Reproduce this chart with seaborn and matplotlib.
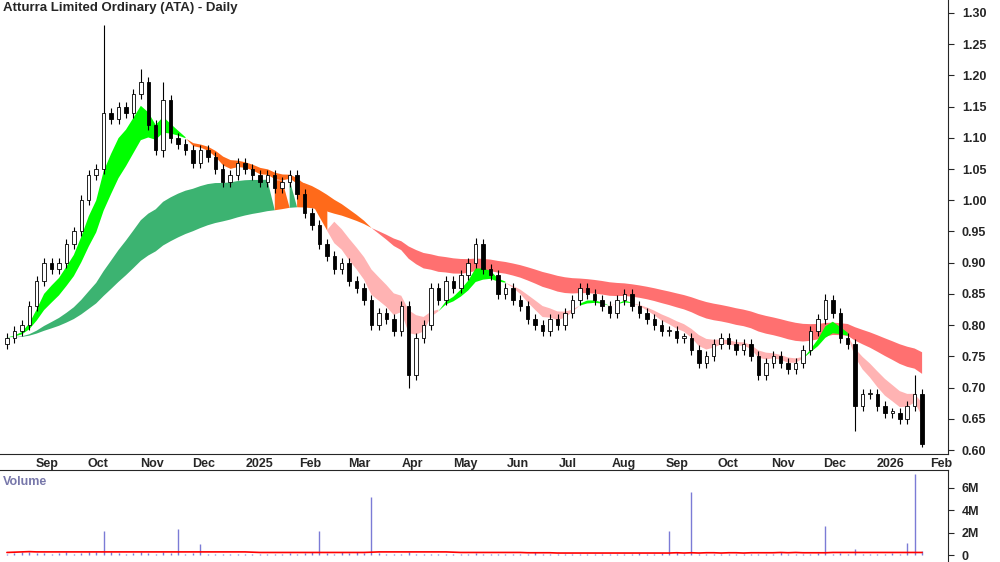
import numpy as np
import pandas as pd
import matplotlib
matplotlib.use("Agg")
import matplotlib.pyplot as plt
import matplotlib.dates as mdates
import seaborn as sns

# closes, roughly one bar per 3 trading days (Aug 2024 -> Jan 2026)
close = [0.78, 0.79, 0.80, 0.83, 0.87,
         0.90, 0.89, 0.90, 0.93, 0.95, 1.00, 1.04,
         1.05, 1.14, 1.13, 1.15, 1.14, 1.17, 1.19,
         1.12, 1.08, 1.16, 1.10, 1.09, 1.08, 1.06,
         1.08, 1.07, 1.05, 1.03, 1.04, 1.06, 1.05,
         1.04, 1.03, 1.04, 1.02, 1.03, 1.04, 1.01,
         0.98, 0.96, 0.93, 0.91, 0.89, 0.90, 0.87,
         0.86, 0.84, 0.80, 0.82, 0.81, 0.79, 0.83,
         0.72, 0.78, 0.80, 0.86, 0.84, 0.87, 0.86,
         0.88, 0.90, 0.93, 0.89, 0.88, 0.85, 0.86,
         0.84, 0.83, 0.81, 0.80, 0.79, 0.81, 0.80,
         0.82, 0.84, 0.86, 0.85, 0.84, 0.83, 0.82,
         0.84, 0.85, 0.83, 0.82, 0.81, 0.80, 0.79,
         0.79, 0.78, 0.78, 0.76, 0.74, 0.75, 0.77,
         0.78, 0.77, 0.76, 0.77, 0.75, 0.72, 0.74,
         0.75, 0.74, 0.73, 0.74, 0.76, 0.79, 0.81,
         0.84, 0.82, 0.78, 0.77, 0.67, 0.69, 0.69,
         0.67, 0.66, 0.66, 0.65, 0.67, 0.69, 0.61]
first_open = 0.77
# notable wicks
spike_high = {13: 1.28, 18: 1.21, 21: 1.19, 63: 0.94, 110: 0.85, 122: 0.72}
spike_low = {54: 0.70, 114: 0.63, 123: 0.605, 21: 1.07}

# volume in millions, same bars
volume = [0.15, 0.20, 0.25, 0.30, 0.20,
          0.20, 0.15, 0.20, 0.25, 0.15, 0.20, 0.30,
          0.25, 2.20, 0.30, 0.20, 0.15, 0.20, 0.25,
          0.20, 0.15, 0.25, 0.20, 2.30, 0.15, 0.20,
          1.00, 0.15, 0.10, 0.15, 0.10, 0.15, 0.10,
          0.10, 0.15, 0.10, 0.15, 0.10, 0.20, 0.15,
          0.20, 0.25, 2.20, 0.20, 0.15, 0.30, 0.20,
          0.25, 0.20, 5.20, 0.20, 0.15, 0.10, 0.15,
          0.25, 0.15, 0.10, 0.15, 0.10, 0.15, 0.10,
          0.10, 0.15, 0.20, 0.10, 0.15, 0.10, 0.10,
          0.10, 0.15, 0.10, 0.30, 0.10, 0.15, 0.10,
          0.10, 0.15, 0.10, 0.10, 0.15, 0.10, 0.10,
          0.10, 0.15, 0.10, 0.20, 0.10, 0.15, 0.20,
          2.20, 0.30, 0.10, 5.60, 0.10, 0.15, 0.10,
          0.10, 0.15, 0.10, 0.10, 0.15, 0.10, 0.10,
          0.15, 0.30, 0.10, 0.15, 0.10, 0.15, 0.20,
          2.60, 0.15, 0.20, 0.10, 0.60, 0.15, 0.10,
          0.15, 0.10, 0.20, 0.15, 1.10, 7.20, 0.40]

dates = pd.date_range("2024-08-18", "2026-01-30", periods=len(close))
df = pd.DataFrame({"date": dates, "close": close, "volume": volume})
df["open"] = df["close"].shift(1).fillna(first_open)
df["high"] = np.maximum(df["open"], df["close"]) + 0.008
df["low"] = np.minimum(df["open"], df["close"]) - 0.008
for i, v in spike_high.items():
    df.loc[i, "high"] = v
for i, v in spike_low.items():
    df.loc[i, "low"] = v

# ribbons (EMA, spans in bars)
s_fast = df["close"].ewm(span=5, adjust=False).mean()
s_slow = df["close"].ewm(span=10, adjust=False).mean()
l_fast = df["close"].ewm(span=28, adjust=False).mean()
l_slow = df["close"].ewm(span=50, adjust=False).mean()
df["vol_ma"] = df["volume"].rolling(20, min_periods=1).median() + 0.1

sns.set_style("white")
plt.rcParams["font.family"] = ["Liberation Sans", "DejaVu Sans"]

fig = plt.figure(figsize=(10, 5.62), dpi=100)
ax = fig.add_axes([0, 1 - 454 / 562, 0.948, 454 / 562])
axv = fig.add_axes([0, 0, 0.948, 92 / 562], sharex=ax)

x = mdates.date2num(df["date"])

# long ribbon: green rising, orange turning, red falling
l_up = (l_fast > l_slow).values
l_fast_rising = (l_fast.diff(4).fillna(1) > 0).values
lo_l, hi_l = np.minimum(l_fast, l_slow), np.maximum(l_fast, l_slow)
ax.fill_between(x, lo_l, hi_l, where=l_up & l_fast_rising, color="#3cb371", lw=0, interpolate=True)
ax.fill_between(x, lo_l, hi_l, where=l_up & ~l_fast_rising, color="#ff6a1a", lw=0, interpolate=True)
ax.fill_between(x, lo_l, hi_l, where=~l_up, color="#ff7070", lw=0, interpolate=True)

# short ribbon
s_up = (s_fast > s_slow).values
above = (s_slow > l_slow).values
lo_s, hi_s = np.minimum(s_fast, s_slow), np.maximum(s_fast, s_slow)
ax.fill_between(x, lo_s, hi_s, where=s_up, color="#00ff00", lw=0, interpolate=True)
ax.fill_between(x, lo_s, hi_s, where=(~s_up) & above, color="#ff6a1a", lw=0, interpolate=True)
ax.fill_between(x, lo_s, hi_s, where=(~s_up) & ~above, color="#ffb3b3", lw=0, interpolate=True)

# candles
w = 2.0
for xi, o, h, l, c in zip(x, df["open"], df["high"], df["low"], df["close"]):
    ax.vlines(xi, l, h, color="black", lw=0.8, zorder=3)
    face = "white" if c >= o else "black"
    ax.add_patch(plt.Rectangle((xi - w / 2, min(o, c)), w, max(abs(c - o), 0.002),
                               facecolor=face, edgecolor="black", lw=0.6, zorder=4))

ax.set_ylim(0.5936, 1.3208)
ax.set_xlim(mdates.datestr2num("2024-08-14"), mdates.datestr2num("2026-02-14"))
ax.yaxis.tick_right()
ax.set_yticks(np.arange(0.60, 1.301, 0.05))
ax.yaxis.set_major_formatter(plt.FormatStrFormatter("%.2f"))
ax.tick_params(axis="y", direction="out", length=4, labelsize=9, pad=6)

months = pd.date_range("2024-09-01", "2026-02-01", freq="MS")
ax.set_xticks(mdates.date2num(months))
ax.set_xticklabels([])
ax.tick_params(axis="x", direction="in", length=4)
for m in months:
    lab = str(m.year) if m.month == 1 else m.strftime("%b")
    ax.annotate(lab, (mdates.date2num(m), 0), xycoords=("data", "axes fraction"),
                xytext=(3, -3), textcoords="offset points", ha="left", va="top",
                fontsize=9, fontweight="bold", annotation_clip=False)

ax.text(0.003, 0.995, "Atturra Limited Ordinary (ATA) - Daily", transform=ax.transAxes,
        ha="left", va="top", fontsize=9.5, fontweight="bold")
for s in ["top", "left"]:
    ax.spines[s].set_visible(False)

# volume panel
axv.vlines(x, 0, df["volume"], color="#7b7bd6", lw=1)
sns.lineplot(data=df, x=x, y="vol_ma", ax=axv, color="red", lw=1.2)
axv.set_ylim(-0.6, 7.6)
axv.yaxis.tick_right()
axv.set_yticks([0, 2, 4, 6])
axv.set_yticklabels(["0", "2M", "4M", "6M"])
axv.tick_params(axis="y", direction="out", length=4, labelsize=9, pad=6)
axv.tick_params(axis="x", bottom=False, labelbottom=False)
axv.set_ylabel("")
axv.text(0.003, 0.93, "Volume", transform=axv.transAxes, ha="left", va="top",
         fontsize=9, fontweight="bold", color="#7777aa")
for s in ["left", "bottom"]:
    axv.spines[s].set_visible(False)
for t in ax.get_yticklabels() + axv.get_yticklabels():
    t.set_fontweight("bold")

fig.savefig("out.png", dpi=100)
